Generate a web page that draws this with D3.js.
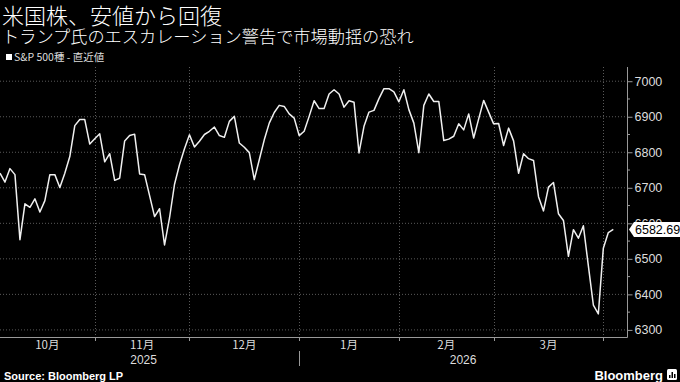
<!DOCTYPE html>
<html><head><meta charset="utf-8">
<script src="https://cdn.jsdelivr.net/npm/d3@7"></script>
<style>html,body{margin:0;padding:0;background:#000;}svg{display:block;}</style>
</head><body><svg id="c" width="680" height="382"></svg>
<script>
const title = "米国株、安値から回復";
const subtitle = "トランプ氏のエスカレーション警告で市場動揺の恐れ";
const legendLabel = "S&P 500種 - 直近値";
const lastLabel = "6582.69";
const values = [
 6741,6716,6754,6737,6554,6655,6645,6669,6632,6664,
 6737,6737,6701,6741,6788,6875,6892,6892,6823,6838,
 6852,6773,6796,6721,6727,6832,6847,6851,6739,6737,
 6678,6619,6641,6539,6615,6710,6765,6810,6849,6815,
 6831,6850,6859,6871,6847,6842,6887,6901,6826,6814,
 6799,6723,6779,6835,6882,6912,6932,6929,6908,6896,
 6847,6859,6901,6945,6923,6923,6964,6976,6964,6927,
 6945,6941,6798,6873,6913,6918,6951,6979,6979,6970,
 6942,6976,6920,6882,6799,6932,6964,6943,6943,6833,
 6837,6845,6880,6863,6908,6840,6894,6946,6913,6880,
 6881,6819,6868,6832,6741,6796,6782,6777,6675,6635,
 6702,6715,6627,6608,6507,6582,6558,6593,6480,6370,
 6345,6530,6574,6582.69
];
const monthLabels = ["10月","11月","12月","1月","2月","3月"];
const monthStarts = [19,38,60,80,99,121];
const yearLabels = ["2025","2026"];
const yearStart = 60;
const yTicks = [6300,6400,6500,6600,6700,6800,6900,7000];
const yMinor = [6350,6450,6550,6650,6750,6850,6950];

const svg = d3.select("#c");
const cjk = "'Noto Sans CJK JP','Noto Sans',sans-serif";
const L = 0, R = 627, T = 67, B = 337;
const x = d3.scaleLinear().domain([0, values.length - 1]).range([0, 613.3]);
const y = d3.scaleLinear().domain([6280, 7040]).range([B, T]);

svg.append("rect").attr("width",680).attr("height",382).attr("fill","#000");

// titles
svg.append("text").attr("x",2).attr("y",24).attr("fill","#fff")
  .style("font-family",cjk).style("font-weight","300").style("font-size","22px").text(title);
svg.append("text").attr("x",2).attr("y",42.5).attr("fill","#fff")
  .style("font-family",cjk).style("font-weight","300").style("font-size","17.2px").text(subtitle);
// legend
svg.append("rect").attr("x",6).attr("y",54).attr("width",6).attr("height",6).attr("fill","#fff");
svg.append("text").attr("x",14).attr("y",61).attr("fill","#ddd")
  .style("font-family",cjk).style("font-size","10.5px").text(legendLabel);

// horizontal grid
svg.append("g").selectAll("line").data(yTicks).join("line")
  .attr("x1",L).attr("x2",R).attr("y1",d=>y(d)).attr("y2",d=>y(d))
  .attr("stroke","#5a5a5a").attr("stroke-width",1).attr("stroke-dasharray","1,2");
// vertical grid
svg.append("g").selectAll("line").data(monthStarts).join("line")
  .attr("x1",d=>Math.round(x(d))+0.5).attr("x2",d=>Math.round(x(d))+0.5).attr("y1",T).attr("y2",B)
  .attr("stroke","#5a5a5a").attr("stroke-width",1).attr("stroke-dasharray","1,2");

// right axis
const yAxis = d3.axisRight(y).tickValues(yTicks).tickSize(5).tickPadding(2).tickFormat(d3.format("d"));
const ga = svg.append("g").attr("transform",`translate(${R+0.5},0)`).call(yAxis);
ga.select(".domain").remove();
ga.selectAll("line").attr("stroke","#999");
ga.selectAll("text").attr("fill","#ddd").style("font-family","'Liberation Sans',Arial,sans-serif").style("font-size","12.5px");
svg.append("g").selectAll("line").data(yMinor).join("line")
  .attr("x1",R).attr("x2",R+3).attr("y1",d=>y(d)).attr("y2",d=>y(d)).attr("stroke","#999");
svg.append("line").attr("x1",R+0.5).attr("x2",R+0.5).attr("y1",T).attr("y2",B+0.5).attr("stroke","#999");

// bottom axis
svg.append("line").attr("x1",L).attr("x2",R+0.5).attr("y1",B+0.5).attr("y2",B+0.5).attr("stroke","#999");
svg.append("g").selectAll("line").data(monthStarts).join("line")
  .attr("x1",d=>Math.round(x(d))+0.5).attr("x2",d=>Math.round(x(d))+0.5).attr("y1",B).attr("y2",B+4)
  .attr("stroke","#999");
const bounds = [0, ...monthStarts];
svg.append("g").selectAll("text").data(monthLabels).join("text")
  .attr("x",(d,i)=>i===0 ? (L + x(bounds[1]))/2 : (x(bounds[i]) + x(bounds[i+1]))/2)
  .attr("y",349).attr("text-anchor","middle").attr("fill","#ddd")
  .style("font-family",cjk).style("font-size","11.5px").text(d=>d);
const yearPos = [(L + x(yearStart))/2 - 6, (x(yearStart) + R)/2];
svg.append("g").selectAll("text").data(yearLabels).join("text")
  .attr("x",(d,i)=>yearPos[i]).attr("y",364).attr("text-anchor","middle").attr("fill","#ddd")
  .style("font-family","'Liberation Sans',Arial,sans-serif").style("font-size","12px").text(d=>d);
svg.append("line").attr("x1",Math.round(x(yearStart))+0.5).attr("x2",Math.round(x(yearStart))+0.5)
  .attr("y1",351).attr("y2",366).attr("stroke","#999");

// line
svg.append("path").datum(values)
  .attr("d", d3.line().x((d,i)=>x(i)).y(d=>y(d)))
  .attr("fill","none").attr("stroke","#f0f0f0").attr("stroke-width",1.5).attr("stroke-linejoin","round");

// last value label
const lv = values[values.length-1];
const cy = y(lv);
svg.append("path")
  .attr("d",`M629,${cy} L634,${cy-7.5} L680,${cy-7.5} L680,${cy+7.5} L634,${cy+7.5} Z`)
  .attr("fill","#fff");
svg.append("text").attr("x",635).attr("y",cy+4.5).attr("fill","#000")
  .style("font-family","'Liberation Sans',Arial,sans-serif").style("font-size","12.5px").text(lastLabel);

// footer
svg.append("text").attr("x",4).attr("y",380).attr("fill","#fff")
  .style("font-family","'Liberation Sans',Arial,sans-serif").style("font-weight","bold").style("font-size","11px")
  .text("Source: Bloomberg LP");
svg.append("text").attr("x",663).attr("y",380).attr("text-anchor","end").attr("fill","#fff")
  .style("font-family","'Liberation Sans',Arial,sans-serif").style("font-weight","bold").style("font-size","13px")
  .text("Bloomberg");
const lg = svg.append("g").attr("transform","translate(667,369)");
lg.append("rect").attr("width",10).attr("height",11).attr("rx",1.5).attr("fill","#fff");
[[2,6,1.5,3],[4.5,3,1.5,6],[7,5,1.5,4]].forEach(b=>lg.append("rect").attr("x",b[0]).attr("y",b[1]).attr("width",b[2]).attr("height",b[3]).attr("fill","#000"));
</script></body></html>
